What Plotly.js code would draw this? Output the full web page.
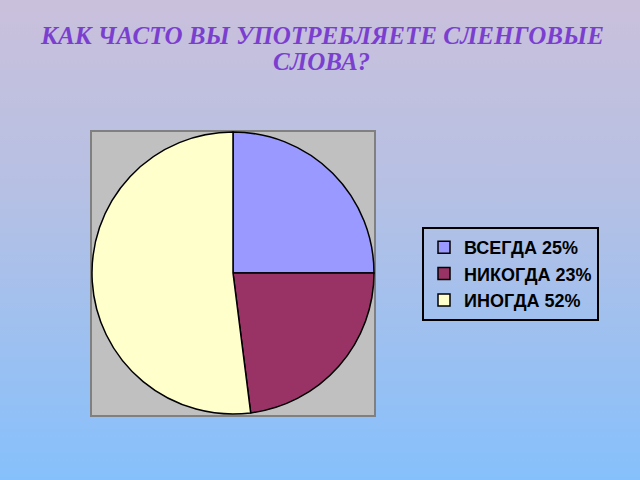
<!DOCTYPE html>
<html>
<head>
<meta charset="utf-8">
<script src="https://cdn.plot.ly/plotly-3.0.1.min.js"></script>
<style>
  html, body { margin: 0; padding: 0; }
  body { width: 640px; height: 480px; background: linear-gradient(to bottom, #cac0dc 0%, #b6c0e4 40%, #86c0fc 100%); }
  #chart { width: 640px; height: 480px; }
</style>
</head>
<body>
<div id="chart"></div>
<script>
// answers to the survey question
var labels = ["ВСЕГДА 25%", "НИКОГДА 23%", "ИНОГДА 52%"];
var shares = [25, 23, 52];
var colors = ["#9999ff", "#993366", "#ffffcc"];
var titleLines = ["КАК ЧАСТО ВЫ УПОТРЕБЛЯЕТЕ СЛЕНГОВЫЕ", "СЛОВА?"];

var pie = {
   type: "pie",
   labels: labels,
   values: shares,
   sort: false,
   direction: "clockwise",
   rotation: 0,
   textinfo: "none",
   hoverinfo: "label",
   marker: {colors: colors, line: {color: "#000000", width: 1.5}},
   domain: {x: [92/640, 374/640], y: [1 - 414/480, 1 - 132/480]}
};

var titleFont = {family: "Liberation Serif, Times New Roman, serif", size: 25,
                 color: "#7b3fd0", style: "italic", weight: "bold"};

var layout = {
   width: 640,
   height: 480,
   margin: {l: 0, r: 0, t: 0, b: 0},
   paper_bgcolor: "rgba(0,0,0,0)",
   plot_bgcolor: "rgba(0,0,0,0)",
   // two title lines set close together, as on the slide
   annotations: [
      {text: titleLines[0], xref: "paper", yref: "paper", x: 322/640, y: 1 - 36/480,
       xanchor: "center", yanchor: "middle", showarrow: false, font: titleFont},
      {text: titleLines[1], xref: "paper", yref: "paper", x: 321/640, y: 1 - 61/480,
       xanchor: "center", yanchor: "middle", showarrow: false, font: titleFont}
   ],
   shapes: [{
      type: "rect", xref: "paper", yref: "paper", layer: "below",
      x0: 91/640, x1: 375/640, y0: 1 - 416/480, y1: 1 - 131/480,
      fillcolor: "#c0c0c0", line: {color: "#808080", width: 2}
   }],
   showlegend: true,
   legend: {
      x: 422/640, xanchor: "left",
      y: 1 - 227/480, yanchor: "top",
      bgcolor: "rgba(0,0,0,0)",
      bordercolor: "#000000",
      borderwidth: 2,
      font: {family: "Liberation Sans, Arial, sans-serif", size: 18, color: "#000000", weight: "bold"}
   }
};

Plotly.newPlot("chart", [pie], layout, {displayModeBar: false, staticPlot: true});
</script>
</body>
</html>
